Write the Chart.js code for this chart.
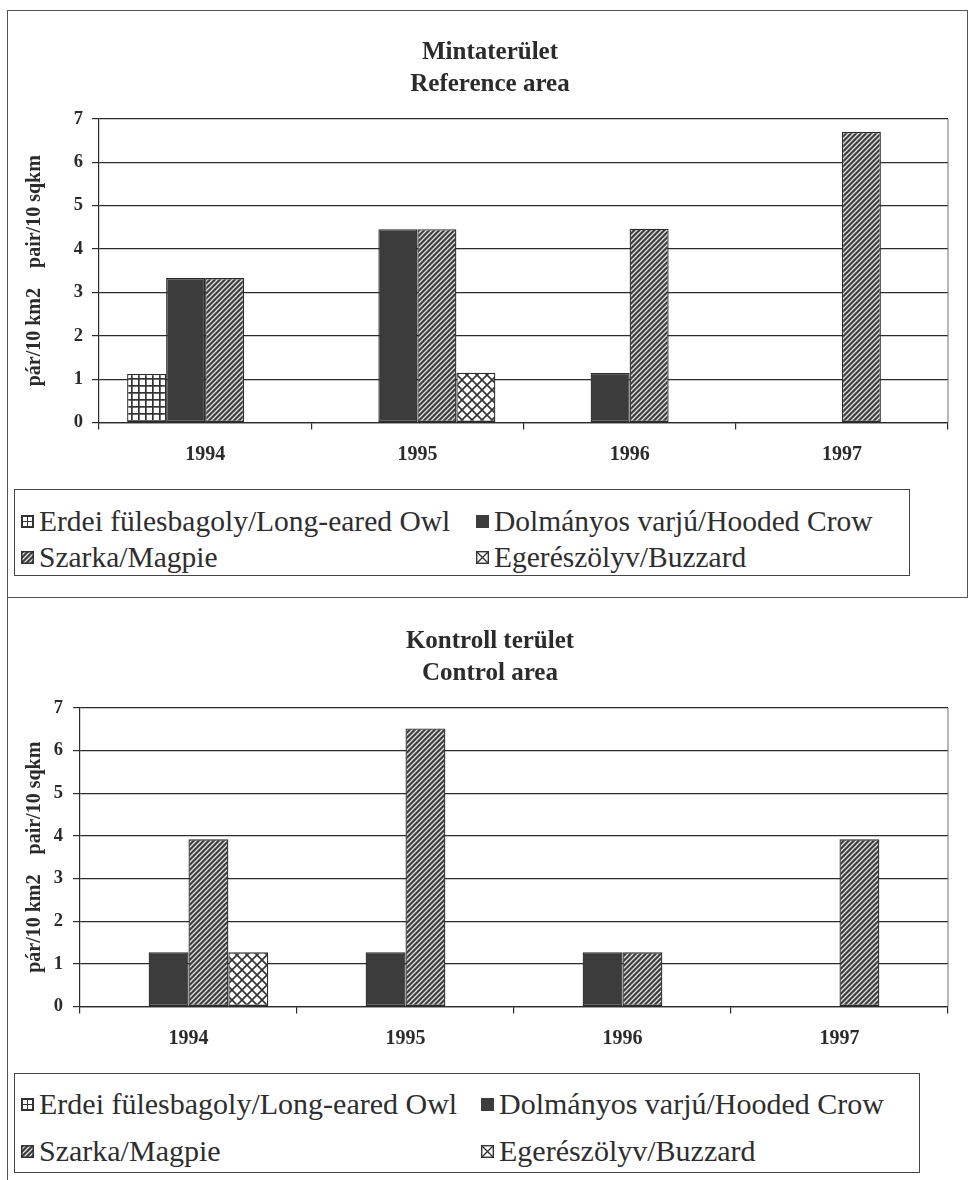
<!DOCTYPE html>
<html><head><meta charset="utf-8">
<script src="https://cdn.jsdelivr.net/npm/chart.js@4.4.1/dist/chart.umd.min.js"></script>
<style>
html,body{margin:0;padding:0;background:#fff;width:968px;height:1180px;overflow:hidden;}
#page{position:relative;width:968px;height:1180px;overflow:hidden;}
.frame{position:absolute;border:1px solid #555;box-sizing:border-box;}
#page > canvas{position:absolute;}
.legend{position:absolute;border:1px solid #444;box-sizing:border-box;font-family:"Liberation Serif","Times New Roman",serif;color:#2e2e2e;}
.item{position:absolute;white-space:nowrap;display:flex;align-items:center;height:36px;line-height:36px;}
.item canvas{margin-right:5px;}
</style></head>
<body><div id="page">
<div class="frame" style="left:7px;top:10px;width:961px;height:588px;"></div>
<div class="frame" style="left:7px;top:597px;width:990px;height:620px;"></div>
<canvas id="c1" width="956" height="480" style="left:12px;top:0px;width:956px;height:480px;"></canvas>
<canvas id="c2" width="956" height="470" style="left:12px;top:600px;width:956px;height:470px;"></canvas>
<div class="legend" id="lg1" style="left:14px;top:489px;width:896px;height:87px;font-size:29.5px;"></div>
<div class="legend" id="lg2" style="left:14px;top:1073px;width:906px;height:100px;font-size:30px;"></div>
</div>
<script>
const categories = ['1994', '1995', '1996', '1997'];
const seriesLabels = ['Erdei fülesbagoly/Long-eared Owl', 'Dolmányos varjú/Hooded Crow', 'Szarka/Magpie', 'Egerészölyv/Buzzard'];
const yTicks = [0, 1, 2, 3, 4, 5, 6, 7];
const yTitle = 'pár/10 km2\u00A0\u00A0\u00A0\u00A0pair/10 sqkm';
const title1 = ['Mintaterület', 'Reference area'];
const title2 = ['Kontroll terület', 'Control area'];

// Reference area
const refOwl = [1.12, null, null, null];
const refCrow = [3.33, 4.46, 1.14, null];
const refMagpie = [3.33, 4.46, 4.47, 6.70];
const refBuzzard = [null, 1.15, null, null];
// Control area
const ctlOwl = [null, null, null, null];
const ctlCrow = [1.27, 1.27, 1.27, null];
const ctlMagpie = [3.92, 6.52, 1.27, 3.92];
const ctlBuzzard = [1.27, null, null, null];

const SERIF = '"Liberation Serif","Times New Roman",serif';
const INK = '#2b2b2b';
const kinds = ['grid', 'solid', 'diag', 'cross'];

function tile(w, h, draw) {
  const c = document.createElement('canvas'); c.width = w; c.height = h;
  draw(c.getContext('2d'), w, h); return c;
}
function makeFill(ctx, kind) {
  let t;
  if (kind === 'solid') return '#3c3c3c';
  if (kind === 'grid') t = tile(7, 7, g => { g.fillStyle = '#fff'; g.fillRect(0, 0, 7, 7); g.fillStyle = '#333'; g.fillRect(0, 0, 7, 1.7); g.fillRect(0, 0, 1.7, 7); });
  if (kind === 'diag') t = tile(5, 5, g => { g.fillStyle = '#3e3e3e'; g.fillRect(0, 0, 5, 5); g.strokeStyle = '#e2e2e2'; g.lineWidth = 1.3; g.beginPath(); g.moveTo(-1, 6); g.lineTo(6, -1); g.moveTo(-1, 1); g.lineTo(1, -1); g.moveTo(4, 6); g.lineTo(6, 4); g.stroke(); });
  if (kind === 'cross') t = tile(10, 10, g => { g.fillStyle = '#fff'; g.fillRect(0, 0, 10, 10); g.strokeStyle = '#333'; g.lineWidth = 1.6; g.beginPath(); g.moveTo(-1, -1); g.lineTo(11, 11); g.moveTo(11, -1); g.lineTo(-1, 11); g.stroke(); });
  return ctx.createPattern(t, 'repeat');
}

const plotBorder = {
  id: 'plotBorder',
  beforeDatasetsDraw(c) {
    const { ctx, chartArea: a } = c;
    ctx.save(); ctx.strokeStyle = '#707070'; ctx.lineWidth = 1;
    ctx.beginPath(); ctx.moveTo(a.right, a.top); ctx.lineTo(a.right, a.bottom); ctx.stroke();
    ctx.restore();
  }
};

function makeChart(id, titleLines, series, o) {
  const ctx = document.getElementById(id).getContext('2d');
  return new Chart(ctx, {
    type: 'bar',
    data: {
      labels: categories,
      datasets: series.map((d, i) => ({
        label: seriesLabels[i], data: d,
        backgroundColor: makeFill(ctx, kinds[i]),
        borderColor: INK, borderWidth: 1.3, borderSkipped: false,
        categoryPercentage: 0.735, barPercentage: 1
      }))
    },
    options: {
      responsive: false, animation: false, devicePixelRatio: 1,
      layout: { padding: 0 },
      plugins: {
        legend: { display: false }, tooltip: { enabled: false },
        title: { display: true, text: titleLines, color: INK,
          font: { family: SERIF, size: 25, weight: 'bold', lineHeight: 1.28 },
          padding: { top: o.titleTop, bottom: 18 } }
      },
      scales: {
        x: {
          grid: { display: true, drawOnChartArea: false, drawTicks: true, tickLength: 7, color: INK, lineWidth: 1.2, offset: true },
          border: { display: true, color: INK, width: 1.2 },
          ticks: { color: INK, font: { family: SERIF, size: 20, weight: 'bold' }, padding: 13.5, maxRotation: 0 },
          afterFit(s) { s.height = o.xH; }
        },
        y: {
          min: 0, max: 7,
          afterBuildTicks(s) { s.ticks = yTicks.map(v => ({ value: v })); },
          grid: { color: INK, lineWidth: 1.2, tickLength: 7 },
          border: { display: true, color: INK, width: 1.2 },
          ticks: { color: INK, font: { family: SERIF, size: 18.5, weight: 'bold' }, padding: o.yPad },
          title: { display: true, text: yTitle, color: INK, font: { family: SERIF, size: 20, weight: 'bold' }, padding: { top: 11, bottom: 0 } },
          afterFit(s) { s.width = o.yW; }
        },
        y2: {
          position: 'right', display: true,
          grid: { display: false }, ticks: { display: false }, border: { display: false },
          afterFit(s) { s.width = 20; }
        }
      }
    },
    plugins: [plotBorder]
  });
}

function swatch(kind) {
  const c = document.createElement('canvas'); c.width = 13; c.height = 13;
  c.style.width = '13px'; c.style.height = '13px';
  const g = c.getContext('2d');
  if (kind === 'grid') { g.fillStyle = '#333'; g.fillRect(0, 0, 13, 13); g.fillStyle = '#fff'; [[2, 2], [7, 2], [2, 7], [7, 7]].forEach(p => g.fillRect(p[0], p[1], 4, 4)); }
  if (kind === 'solid') { g.fillStyle = '#3c3c3c'; g.fillRect(0, 0, 13, 13); }
  if (kind === 'diag') { g.fillStyle = makeFill(g, 'diag'); g.fillRect(0, 0, 13, 13); g.strokeStyle = '#333'; g.lineWidth = 1.5; g.strokeRect(0.75, 0.75, 11.5, 11.5); }
  if (kind === 'cross') { g.fillStyle = '#fff'; g.fillRect(0, 0, 13, 13); g.strokeStyle = '#333'; g.lineWidth = 1.4; g.strokeRect(0.7, 0.7, 11.6, 11.6); g.beginPath(); g.moveTo(1, 1); g.lineTo(12, 12); g.moveTo(12, 1); g.lineTo(1, 12); g.stroke(); }
  return c;
}

function buildLegend(elId, chart, pos) {
  const box = document.getElementById(elId);
  chart.data.datasets.forEach((ds, i) => {
    const it = document.createElement('div'); it.className = 'item';
    it.style.left = pos[i][0] + 'px'; it.style.top = (pos[i][1] - 18) + 'px';
    it.appendChild(swatch(kinds[i]));
    const sp = document.createElement('span'); sp.textContent = ds.label; it.appendChild(sp);
    box.appendChild(it);
  });
}

const ch1 = makeChart('c1', title1, [refOwl, refCrow, refMagpie, refBuzzard], { titleTop: 37, xH: 57.5, yW: 87, yPad: 9 });
const ch2 = makeChart('c2', title2, [ctlOwl, ctlCrow, ctlMagpie, ctlBuzzard], { titleTop: 26, xH: 63.5, yW: 68, yPad: 10 });
buildLegend('lg1', ch1, [[6, 31], [461, 31], [6, 67], [461, 67]]);
buildLegend('lg2', ch2, [[6, 30], [466, 30], [6, 77], [466, 77]]);
</script>
</body></html>
